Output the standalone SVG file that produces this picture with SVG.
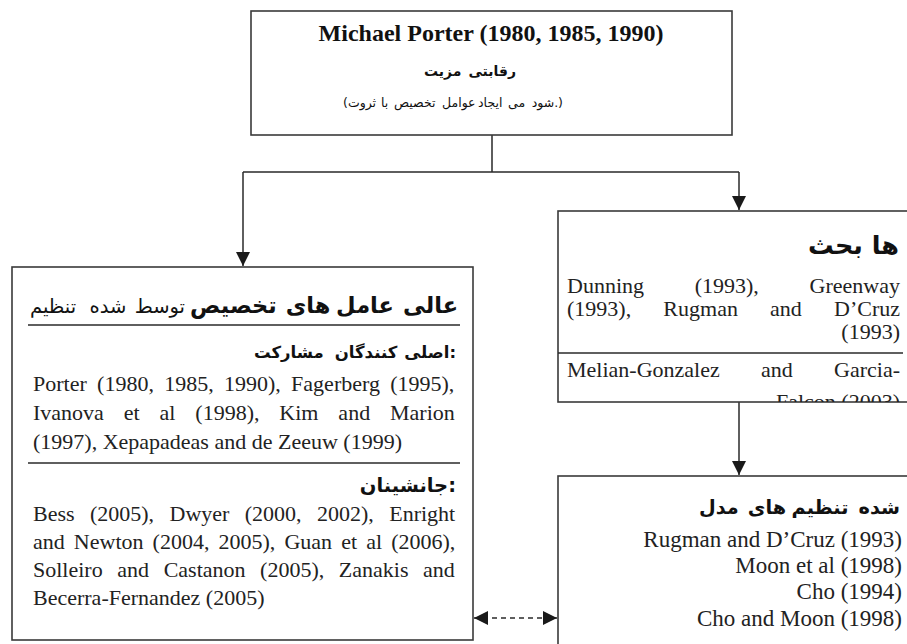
<svg xmlns="http://www.w3.org/2000/svg" width="907" height="644" viewBox="0 0 907 644">
<style>
.box{fill:#fff;stroke:#3a3a3a;stroke-width:1.6}
.sep{stroke:#2a2a2a;stroke-width:1.6}
.ln{fill:none;stroke:#2a2a2a;stroke-width:1.5}
.en{font-family:"Liberation Serif","Times New Roman",serif;fill:#222}
.fa{font-family:"DejaVu Sans",sans-serif;fill:#111}
.fab{font-family:"DejaVu Sans",sans-serif;font-weight:bold;fill:#111}
.s{text-anchor:start}.m{text-anchor:middle}.e{text-anchor:end}
</style>
<defs>
<marker id="ah" viewBox="0 0 10 10" refX="10" refY="5" markerWidth="14" markerHeight="14" markerUnits="userSpaceOnUse" orient="auto-start-reverse">
<path d="M0,0 L10,5 L0,10 Z" fill="#1a1a1a"/>
</marker>
<clipPath id="clipR1"><rect x="558" y="211" width="360" height="191"/></clipPath>
</defs>
<rect width="907" height="644" fill="#fff"/>

<g id="connectors">
<path class="ln" d="M492,135 V172 M243,172 H739"/>
<path class="ln" d="M243,172 V266" marker-end="url(#ah)"/>
<path class="ln" d="M739,172 V210" marker-end="url(#ah)"/>
<path class="ln" d="M739,402 V475" marker-end="url(#ah)"/>
<path class="ln" d="M474,618 H557" stroke-dasharray="5,4" marker-start="url(#ah)" marker-end="url(#ah)"/>
</g>

<g id="porter">
<rect class="box" x="251" y="11" width="481" height="124"/>
<text class="en" x="491" y="41" text-anchor="middle" font-size="24" font-weight="bold" style="fill:#111">Michael Porter (1980, 1985, 1990)</text>
<g class="fab" font-size="14">
<text class="s" x="424" y="76">مزیت</text>
<text class="e" x="516" y="76">رقابتی</text>
</g>
<g class="fa" font-size="12.5">
<text class="s" x="343" y="107">(ثروت</text>
<text class="s" x="381" y="107">با</text>
<text class="s" x="394" y="107">تخصیص</text>
<text class="s" x="442" y="107">عوامل</text>
<text class="s" x="478" y="107">ایجاد</text>
<text class="s" x="508" y="107">می</text>
<text class="e" x="563" y="107">شود.)</text>
</g>
</g>

<g id="factor-specialization">
<rect class="box" x="12" y="267" width="461" height="373"/>
<g class="fa" font-size="19.5">
<text class="s" x="30" y="313">تنظیم</text>
<text class="m" x="108" y="313">شده</text>
<text class="e" x="185" y="313">توسط</text>
</g>
<g class="fab" font-size="22.5">
<text class="s" x="190" y="313">تخصیص</text>
<text class="m" x="308" y="313">های</text>
<text class="m" x="365" y="313">عامل</text>
<text class="e" x="458" y="313">عالی</text>
</g>
<line class="sep" x1="28" y1="325" x2="460" y2="325"/>
<g class="fab" font-size="16.5">
<text class="s" x="254" y="358">مشارکت</text>
<text class="m" x="366" y="358">کنندگان</text>
<text class="e" x="456" y="358">اصلی:</text>
</g>
<g class="en" font-size="22">
<text x="33" y="391" word-spacing="4.8">Porter (1980, 1985, 1990), Fagerberg (1995),</text>
<text x="33" y="420" word-spacing="14.4">Ivanova et al (1998), Kim and Marion</text>
<text x="33" y="449">(1997), Xepapadeas and de Zeeuw (1999)</text>
</g>
<line class="sep" x1="28" y1="463" x2="460" y2="463"/>
<text class="fab e" x="456" y="492" font-size="19.5">جانشینان:</text>
<g class="en" font-size="22">
<text x="33" y="521" word-spacing="9.9">Bess (2005), Dwyer (2000, 2002), Enright</text>
<text x="33" y="549" word-spacing="3.6">and Newton (2004, 2005), Guan et al (2006),</text>
<text x="33" y="577" word-spacing="9.1">Solleiro and Castanon (2005), Zanakis and</text>
<text x="33" y="605">Becerra-Fernandez (2005)</text>
</g>
</g>

<g id="debates">
<rect class="box" x="558" y="211" width="360" height="191"/>
<g class="fab" font-size="25.5">
<text class="s" x="808" y="254">بحث</text>
<text class="e" x="899" y="254">ها</text>
</g>
<g class="en" font-size="22" clip-path="url(#clipR1)">
<text x="567" y="293" word-spacing="45.2">Dunning (1993), Greenway</text>
<text x="567" y="316" word-spacing="26.7">(1993), Rugman and D’Cruz</text>
<text x="900" y="339" text-anchor="end">(1993)</text>
<text x="567" y="377" word-spacing="35.8">Melian-Gonzalez and Garcia-</text>
<text x="900" y="409" text-anchor="end">Falcon (2003)</text>
</g>
<line class="sep" x1="558" y1="353" x2="903" y2="353"/>
</g>

<g id="adjusted-models">
<rect class="box" x="558" y="476" width="360" height="200"/>
<g class="fab" font-size="19.3">
<text class="s" x="699" y="514">مدل</text>
<text class="m" x="767" y="514">های</text>
<text class="m" x="820" y="514">تنظیم</text>
<text class="e" x="900" y="514">شده</text>
</g>
<g class="en" font-size="23" text-anchor="end">
<text x="902" y="547">Rugman and D’Cruz (1993)</text>
<text x="902" y="573">Moon et al (1998)</text>
<text x="902" y="599">Cho (1994)</text>
<text x="902" y="626">Cho and Moon (1998)</text>
</g>
</g>
</svg>
